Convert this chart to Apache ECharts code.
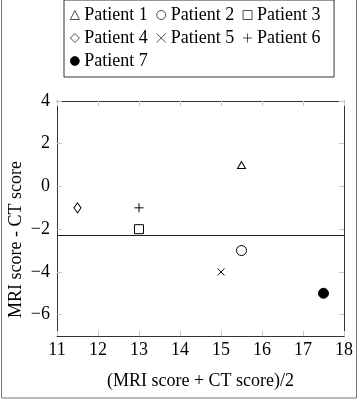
<!DOCTYPE html>
<html>
<head>
<meta charset="utf-8">
<script src="https://cdn.jsdelivr.net/npm/echarts@6/dist/echarts.min.js"></script>
<style>
html, body { margin: 0; padding: 0; background: #fff; }
#chart { width: 360px; height: 400px; }
</style>
</head>
<body>
<div id="chart"></div>
<script>
// data
var patients = ['Patient 1', 'Patient 2', 'Patient 3', 'Patient 4', 'Patient 5', 'Patient 6', 'Patient 7'];
var meanScore = [15.5, 15.5, 13, 11.5, 15, 13, 17.5];
var diffScore = [1, -3, -2, -1, -4, -1, -5];
var meanDiff = -2.28;
var xTicks = [11, 12, 13, 14, 15, 16, 17, 18];
var yTicks = [-6, -4, -2, 0, 2, 4];

var font = '"Liberation Serif", "Times New Roman", serif';
var crossPath = 'path://M0,0L10,10M10,0L0,10';
var plusPath = 'path://M5,0L5,10M0,5L10,5';
var symbols = ['triangle', 'circle', 'rect', 'diamond', crossPath, plusPath, 'circle'];
var sizes = [[8, 7], 10, 9, [7, 10], 7, 9, 10];
var fills = ['#fff', '#fff', '#fff', '#fff', '#fff', '#fff', '#000'];

function minus(v) {
	return String(v).replace('-', '\u2212');
}

var myChart = echarts.init(document.getElementById('chart'));

var series = [];
for (var i = 0; i < patients.length; i++) {
	series.push({
		name : patients[i],
		type : 'scatter',
		symbol : symbols[i],
		symbolSize : sizes[i],
		z : 5,
		itemStyle : {
			color : fills[i],
			borderColor : '#000',
			borderWidth : 1,
			opacity : 1
		},
		data : [ [ meanScore[i], diffScore[i] ] ]
	});
}
// horizontal mean line
series[0].markLine = {
	silent : true,
	symbol : 'none',
	label : { show : false },
	lineStyle : { color : '#222', width : 1, type : 'solid' },
	data : [ { yAxis : meanDiff } ]
};

var tickStyle = { show : true, inside : true, length : 5, lineStyle : { color : '#c8c8c8' } };
var lineStyle = { show : true, onZero : false, lineStyle : { color : '#333', width : 1 } };

var option = {
	animation : false,
	textStyle : { fontFamily : font },
	graphic : [ {
		type : 'rect',
		silent : true,
		shape : { x : 1.5, y : -5, width : 355, height : 403 },
		style : { fill : 'none', stroke : '#777', lineWidth : 1 }
	} ],
	legend : {
		left : 64,
		top : 0,
		width : 262,
		padding : [ 6, 10, 7, 6 ],
		itemGap : 5,
		itemWidth : 9,
		itemHeight : 9,
		borderColor : '#333',
		borderWidth : 1,
		itemStyle : { borderWidth : 0.7 },
		textStyle : {
			fontFamily : font,
			fontSize : 18,
			color : '#000',
			width : 67,
			lineHeight : 18
		},
		data : patients
	},
	grid : {
		left : 57,
		right : 16,
		top : 101,
		bottom : 64,
		containLabel : false,
		outerBoundsMode : 'none'
	},
	xAxis : [ {
		type : 'value',
		min : 11,
		max : 18,
		interval : 1,
		name : '(MRI score + CT score)/2',
		nameLocation : 'middle',
		nameGap : 36,
		nameMoveOverlap : false,
		nameTextStyle : { fontFamily : font, fontSize : 18, color : '#000' },
		axisLine : lineStyle,
		axisTick : tickStyle,
		splitLine : { show : false },
		axisLabel : {
			fontFamily : font,
			fontSize : 18,
			color : '#000',
			margin : 5,
			customValues : xTicks
		}
	}, {
		type : 'value',
		position : 'top',
		min : 11,
		max : 18,
		interval : 1,
		axisLine : lineStyle,
		axisTick : tickStyle,
		splitLine : { show : false },
		axisLabel : { show : false }
	} ],
	yAxis : [ {
		type : 'value',
		min : -7,
		max : 4,
		name : 'MRI score - CT score',
		nameLocation : 'middle',
		nameGap : 32,
		nameMoveOverlap : false,
		nameTextStyle : {
			fontFamily : font,
			fontSize : 18,
			color : '#000',
			padding : [ 0, 42, 0, 0 ]
		},
		axisLine : lineStyle,
		axisTick : {
			show : true,
			inside : true,
			length : 5,
			lineStyle : { color : '#c8c8c8' },
			customValues : yTicks
		},
		splitLine : { show : false },
		axisLabel : {
			fontFamily : font,
			fontSize : 18,
			color : '#000',
			margin : 7,
			customValues : yTicks,
			formatter : minus
		}
	}, {
		type : 'value',
		position : 'right',
		min : -7,
		max : 4,
		axisLine : lineStyle,
		axisTick : {
			show : true,
			inside : true,
			length : 5,
			lineStyle : { color : '#c8c8c8' },
			customValues : yTicks
		},
		splitLine : { show : false },
		axisLabel : { show : false }
	} ],
	series : series
};
myChart.setOption(option);
</script>
</body>
</html>
